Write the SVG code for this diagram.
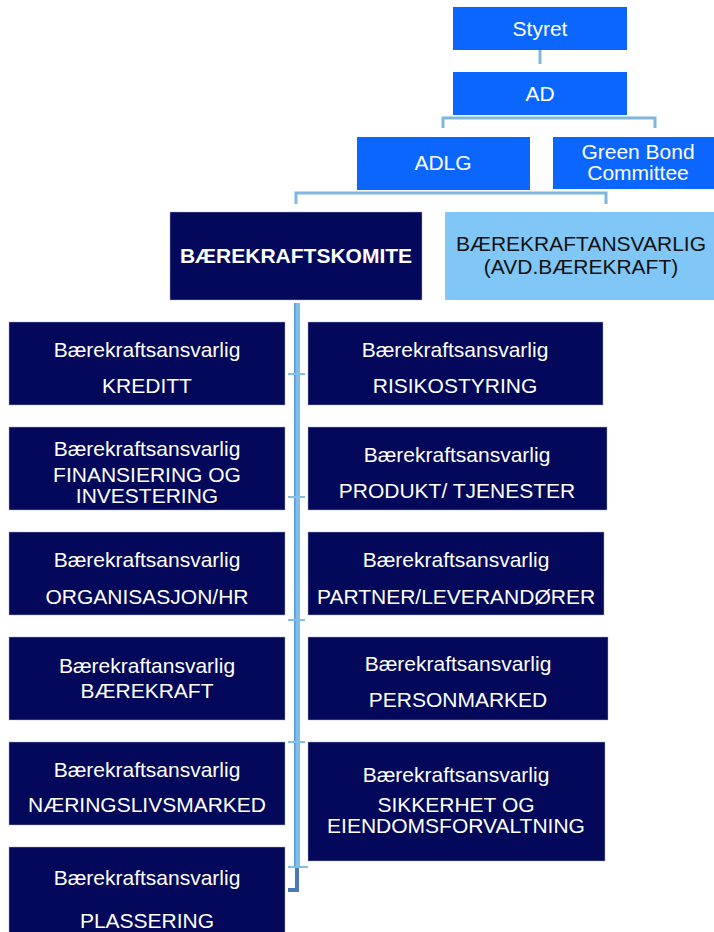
<svg xmlns="http://www.w3.org/2000/svg" width="714" height="932" viewBox="0 0 714 932">
<style>
.blue{fill:#0a66ff}
.navy{fill:#03085a;stroke:#aab3d6;stroke-width:0.8;stroke-opacity:0.6}
.light{fill:#80c7f7}
text{font-family:"Liberation Sans",Arial,sans-serif;font-size:21px;text-anchor:middle}
.w{fill:#ffffff}
.k{fill:#111111}
.b{font-weight:bold}
.con{fill:none;stroke:#7fb8dc;stroke-width:3}
.tick{fill:none;stroke:#7fbfe8;stroke-width:2}
</style>
<rect width="714" height="932" fill="#ffffff"/>
<g id="connectors">
<line class="con" x1="540" y1="50" x2="540" y2="64"/>
<polyline class="con" points="443,128 443,118 655,118 655,128"/>
<polyline class="con" points="296,204 296,193 606,193 606,204"/>
<rect x="294" y="303" width="6" height="565" fill="#7fbfe8"/>
<rect x="294" y="303" width="1.5" height="565" fill="#5a9ad2"/>
<line class="tick" x1="288" y1="374" x2="305" y2="374"/>
<line class="tick" x1="288" y1="497" x2="305" y2="497"/>
<line class="tick" x1="288" y1="620" x2="305" y2="620"/>
<line class="tick" x1="288" y1="742" x2="305" y2="742"/>
<line class="tick" x1="288" y1="867" x2="308" y2="867"/>
<polyline points="297,868 297,890 288,890" fill="none" stroke="#4a78b5" stroke-width="4"/>
</g>
<g id="styret"><rect class="blue" x="453" y="7" width="174" height="43"/><text class="w" x="540" y="36">Styret</text></g>
<g id="ad"><rect class="blue" x="453" y="72" width="174" height="43"/><text class="w" x="540" y="101">AD</text></g>
<g id="adlg"><rect class="blue" x="357" y="137" width="173" height="53"/><text class="w" x="443" y="170">ADLG</text></g>
<g id="greenbond"><rect class="blue" x="553" y="137" width="161" height="52"/><text class="w" x="638" y="159">Green Bond</text><text class="w" x="638" y="180">Committee</text></g>
<g id="komite"><rect class="navy" x="170" y="212" width="252" height="88"/><text class="w b" x="296" y="263">BÆREKRAFTSKOMITE</text></g>
<g id="avd"><rect class="light" x="445" y="212" width="269" height="88"/><text class="k" x="581" y="251">BÆREKRAFTANSVARLIG</text><text class="k" x="581" y="274">(AVD.BÆREKRAFT)</text></g>
<g id="kreditt"><rect class="navy" x="9" y="322" width="276" height="83"/><text class="w" x="147" y="357">Bærekraftsansvarlig</text><text class="w" x="147" y="393">KREDITT</text></g>
<g id="risiko"><rect class="navy" x="308" y="322" width="295" height="83"/><text class="w" x="455" y="357">Bærekraftsansvarlig</text><text class="w" x="455" y="393">RISIKOSTYRING</text></g>
<g id="finans"><rect class="navy" x="9" y="427" width="276" height="83"/><text class="w" x="147" y="456">Bærekraftsansvarlig</text><text class="w" x="147" y="482">FINANSIERING OG</text><text class="w" x="147" y="503">INVESTERING</text></g>
<g id="produkt"><rect class="navy" x="308" y="427" width="299" height="83"/><text class="w" x="457" y="462">Bærekraftsansvarlig</text><text class="w" x="457" y="498">PRODUKT/ TJENESTER</text></g>
<g id="org"><rect class="navy" x="9" y="532" width="276" height="83"/><text class="w" x="147" y="567">Bærekraftsansvarlig</text><text class="w" x="147" y="604">ORGANISASJON/HR</text></g>
<g id="partner"><rect class="navy" x="308" y="532" width="296" height="83"/><text class="w" x="456" y="567">Bærekraftsansvarlig</text><text class="w" x="456" y="604">PARTNER/LEVERANDØRER</text></g>
<g id="baerekraft"><rect class="navy" x="9" y="637" width="276" height="83"/><text class="w" x="147" y="673">Bærekraftansvarlig</text><text class="w" x="147" y="698">BÆREKRAFT</text></g>
<g id="person"><rect class="navy" x="308" y="637" width="300" height="83"/><text class="w" x="458" y="671">Bærekraftsansvarlig</text><text class="w" x="458" y="707">PERSONMARKED</text></g>
<g id="naering"><rect class="navy" x="9" y="742" width="276" height="83"/><text class="w" x="147" y="777">Bærekraftsansvarlig</text><text class="w" x="147" y="812">NÆRINGSLIVSMARKED</text></g>
<g id="sikkerhet"><rect class="navy" x="308" y="742" width="297" height="119"/><text class="w" x="456" y="782">Bærekraftsansvarlig</text><text class="w" x="456" y="812">SIKKERHET OG</text><text class="w" x="456" y="833">EIENDOMSFORVALTNING</text></g>
<g id="plassering"><rect class="navy" x="9" y="847" width="276" height="90"/><text class="w" x="147" y="885">Bærekraftsansvarlig</text><text class="w" x="147" y="928">PLASSERING</text></g>
</svg>
